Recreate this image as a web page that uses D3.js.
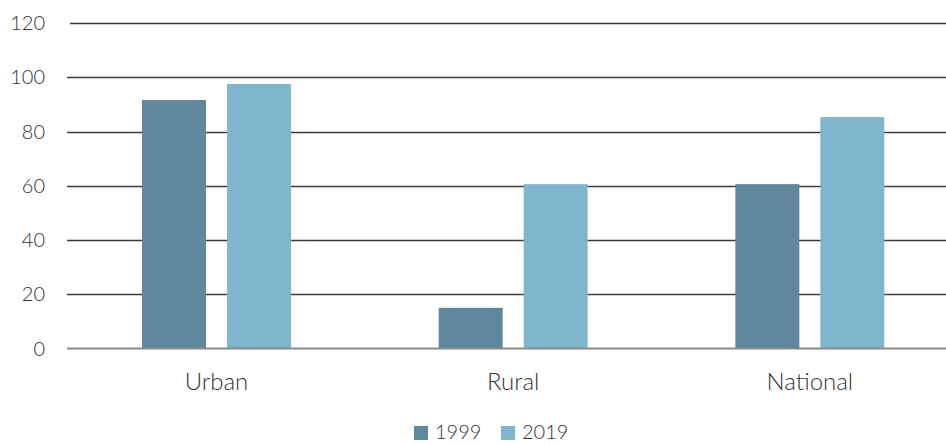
<!DOCTYPE html>
<html>
<head>
<meta charset="utf-8">
<script src="https://cdn.jsdelivr.net/npm/d3@7"></script>
<style>
  body { margin: 0; background: #fff; }
  text { font-family: Lato, "Open Sans", sans-serif; font-weight: 300; fill: #333; }
</style>
</head>
<body>
<div id="chart"></div>
<script>
  // data
  var categories = ["Urban", "Rural", "National"];
  var years = ["1999", "2019"];
  var values1999 = [91.6, 15, 60.6];
  var values2019 = [97.5, 60.6, 85.3];
  var yTicks = [0, 20, 40, 60, 80, 100, 120];
  var colors = ["#5f889d", "#80b6cb"];

  var width = 946,
      height = 444;

  var svg = d3.select("#chart").append("svg")
      .attr("width", width)
      .attr("height", height);

  var y = d3.scaleLinear().domain([0, 120]).range([348.5, 23]);
  var x0 = d3.scaleBand().domain(categories).range([68, 958]).paddingInner(0).paddingOuter(0);
  // two bars 64 wide with a 21 gap inside a ~297 wide band
  var x1 = d3.scaleBand().domain(years).range([74, 223]).paddingInner(21 / 85);

  // gridlines
  svg.append("g")
    .selectAll("line")
    .data(yTicks.filter(function(d) { return d > 0; }))
    .enter().append("line")
    .attr("x1", function(d) { return d === 120 ? 70 : 67; })
    .attr("x2", width)
    .attr("y1", function(d) { return Math.round(y(d)) + 0.5; })
    .attr("y2", function(d) { return Math.round(y(d)) + 0.5; })
    .attr("stroke", "#3a3a3a")
    .attr("stroke-width", 1.3);

  // y tick labels
  svg.append("g")
    .selectAll("text")
    .data(yTicks)
    .enter().append("text")
    .attr("x", 45)
    .attr("y", function(d) { return y(d); })
    .attr("dy", "0.35em")
    .attr("text-anchor", "end")
    .style("font-size", "20px")
    .text(function(d) { return d; });

  // bars
  var rows = categories.map(function(c, i) {
    return { cat: c, vals: [values1999[i], values2019[i]] };
  });

  var groups = svg.append("g").selectAll("g")
    .data(rows)
    .enter().append("g")
    .attr("transform", function(d) { return "translate(" + x0(d.cat) + ",0)"; });

  groups.selectAll("rect")
    .data(function(d) { return d.vals.map(function(v, j) { return { year: years[j], v: v, j: j }; }); })
    .enter().append("rect")
    .attr("x", function(d) { return x1(d.year); })
    .attr("width", x1.bandwidth())
    .attr("y", function(d) { return y(d.v); })
    .attr("height", function(d) { return y(0) - y(d.v); })
    .attr("fill", function(d) { return colors[d.j]; });

  // baseline
  svg.append("line")
    .attr("x1", 67).attr("x2", width)
    .attr("y1", y(0)).attr("y2", y(0))
    .attr("stroke", "#8a8a8a")
    .attr("stroke-width", 2);

  // category labels
  svg.append("g")
    .selectAll("text")
    .data(categories)
    .enter().append("text")
    .attr("x", function(d) { return x0(d) + (x1(years[0]) + x1(years[1]) + x1.bandwidth()) / 2; })
    .attr("y", 382)
    .attr("dy", "0.35em")
    .attr("text-anchor", "middle")
    .style("font-size", "24px")
    .text(function(d) { return d; });

  // legend
  var legendX = [414, 501];
  var legend = svg.append("g").selectAll("g")
    .data(years)
    .enter().append("g")
    .attr("transform", function(d, i) { return "translate(" + legendX[i] + ",426)"; });

  legend.append("rect")
    .attr("width", 14).attr("height", 14)
    .attr("fill", function(d, i) { return colors[i]; });

  legend.append("text")
    .attr("x", 21)
    .attr("y", 6)
    .attr("dy", "0.36em")
    .style("font-size", "20px")
    .text(function(d) { return d; });
</script>
</body>
</html>
